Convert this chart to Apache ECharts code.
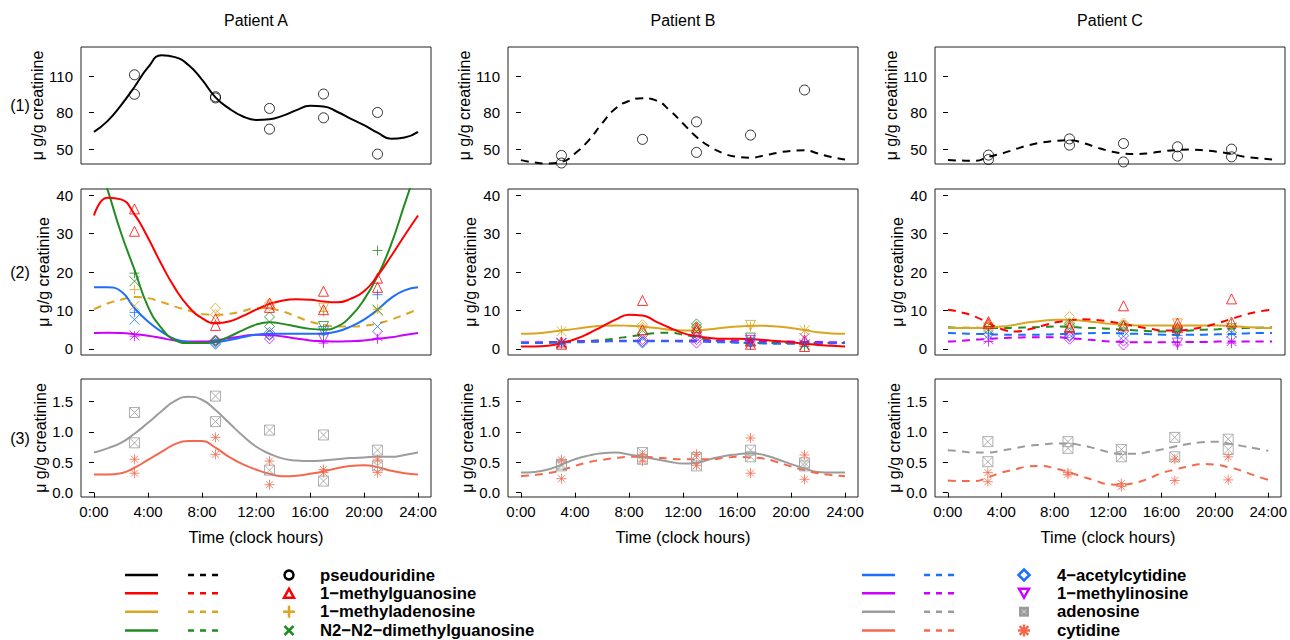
<!DOCTYPE html>
<html>
<head>
<meta charset="utf-8">
<script src="https://cdn.jsdelivr.net/npm/echarts@6/dist/echarts.min.js"></script>
<style>
  html, body { margin: 0; padding: 0; background: #fff; }
  #chart { width: 1290px; height: 640px; }
</style>
</head>
<body>
<div id="chart"></div>
<script>
// axes / labels
const curveHours = [0, 1, 2, 3, 4, 5, 6, 7, 8, 9, 10, 11, 12, 13, 14, 15, 16, 17, 18, 19, 20, 21, 22, 23, 24]
const sampleHours = [3, 3, 9, 9, 13, 13, 17, 17, 21, 21]
const hourTicks = [0, 4, 8, 12, 16, 20, 24]
const yTicksRow1 = [50, 80, 110]
const yTicksRow2 = [0, 10, 20, 30, 40]
const yTicksRow3 = [0, 0.5, 1.0, 1.5]
const patients = ["Patient A", "Patient B", "Patient C"]
const rowLabels = ["(1)", "(2)", "(3)"]
const metaboliteNames = ["pseudouridine", "1\u2212methylguanosine", "1\u2212methyladenosine", "N2\u2212N2\u2212dimethylguanosine",
  "4\u2212acetylcytidine", "1\u2212methylinosine", "adenosine", "cytidine"]

// row (1): pseudouridine, fitted curves read hourly 0:00..24:00
const pseuFitA = [64.2, 73, 86, 101, 117, 127, 125.5, 119, 107, 92.5, 83.4, 77, 74, 74.5, 77.5, 82, 85.5, 85, 80.7, 75, 69.7, 63.5, 58.5, 59.5, 64.2]
const pseuFitB = [41, 39, 38.2, 39.5, 46.4, 57, 71, 83.4, 89.5, 91.7, 90, 82, 71, 60, 52, 46.5, 43.7, 43, 44.8, 47, 48.6, 49, 46.4, 43.5, 41.5]
const pseuFitC = [41, 40.6, 40.4, 43.7, 46.4, 50, 53.3, 55.5, 56.8, 57.3, 55.1, 51.5, 48.3, 46.4, 45.9, 46.8, 48.3, 49.3, 49.6, 49, 47.8, 46, 43.7, 42.5, 41.5]
const pseuPtsA = [111, 95, 92, 93, 83.4, 66.4, 95.2, 75.7, 80.1, 45.9]
const pseuPtsB = [44.8, 38.6, 58, null, 72.4, 47.3, 61.5, null, 98.5, null]
const pseuPtsC = [45.1, 41.5, 58.4, 53.3, 54.6, 39.5, 51.9, 44.3, 50, 43.7]

// row (2): modified nucleosides, patient A
const m1GFitA = [34.7, 39.3, 38.9, 35, 28.9, 22, 15.8, 11, 8, 6.7, 7.1, 8.5, 10.2, 11.7, 12.6, 12.9, 12.8, 12.3, 12.1, 13, 15, 19, 24.1, 29.5, 34.7]
const m1AFitA = [10.3, 11.8, 12.8, 13.5, 13.2, 12.2, 11, 10, 9.1, 8.9, 9.1, 9.8, 10.6, 10.4, 9.7, 8.4, 7.1, 6.3, 5.8, 5.8, 6, 6.6, 7.6, 8.9, 10.3]
const m22GFitA = [52, 41.5, 30.2, 20.6, 11, 5.4, 2.3, 1.5, 1.5, 1.9, 3.2, 4.8, 6.3, 6.9, 6.5, 5.8, 5.2, 5, 5.8, 8.4, 12.8, 18.9, 27.1, 37.6, 48]
const ac4CFitA = [16, 16, 15, 10.6, 7.1, 4.5, 2.5, 1.8, 1.5, 1.7, 2.3, 3.0, 3.7, 3.9, 3.9, 3.9, 3.9, 4.0, 4.5, 5.8, 7.6, 10.2, 13.2, 15.2, 16]
const m1IFitA = [4.1, 4.2, 4.1, 3.8, 3.4, 2.8, 2.2, 1.9, 1.9, 2.2, 2.8, 3.3, 3.7, 3.6, 3.2, 2.7, 2.2, 2.0, 1.9, 2.0, 2.2, 2.6, 3.0, 3.6, 4.1]
const m1GPtsA = [36.4, 30.6, 7.8, 6.1, 11.9, 10.8, 15.0, 10.2, 18.4, 16.0]
const m1APtsA = [15.4, 11.2, 10.6, 8.9, 11.9, 11.2, 10.6, 9.7, 10.3, 9.9]
const m22GPtsA = [19.7, 17.6, 2.2, 1.9, 8.3, 5.8, 5.8, 5.1, 25.6, 10.2]
const ac4CPtsA = [9.5, 7.6, 1.5, 1.2, 4.3, 3.5, 4.5, 3.7, 14.1, 5.8]
const m1IPtsA = [3.3, 3.5, 2.3, 2.0, 3.7, 2.6, 2.6, 1.5, 2.6, 3.3]

// row (2), patient B
const m1GFitB = [0.6, 0.6, 0.8, 1.5, 2.5, 4.0, 5.8, 7.6, 8.9, 8.7, 7.1, 5.5, 4.1, 3.3, 2.8, 2.6, 2.6, 2.5, 2.3, 2.0, 1.7, 1.3, 1.0, 0.8, 0.6]
const m1AFitB = [3.9, 4.0, 4.3, 4.8, 5.2, 5.7, 6.0, 6.1, 6.0, 5.8, 5.4, 5.0, 4.8, 4.8, 5.1, 5.5, 5.8, 6.0, 6.0, 5.8, 5.4, 4.9, 4.3, 4.0, 3.9]
const m22GFitB = [1.5, 1.5, 1.6, 1.7, 2.0, 2.1, 2.3, 2.7, 3.2, 3.7, 4.1, 4.2, 3.7, 3.0, 2.3, 2.0, 1.7, 1.5, 1.5, 1.5, 1.5, 1.5, 1.5, 1.5, 1.5]
const ac4CFitB = [1.5, 1.5, 1.6, 1.7, 1.7, 1.8, 1.9, 2.0, 2.0, 2.0, 2.0, 2.0, 1.9, 1.9, 1.8, 1.7, 1.6, 1.5, 1.4, 1.3, 1.3, 1.3, 1.3, 1.4, 1.5]
const m1IFitB = [1.7, 1.7, 1.8, 1.8, 1.9, 2.0, 2.0, 2.1, 2.1, 2.1, 2.1, 2.1, 2.1, 2.2, 2.2, 2.2, 2.2, 2.1, 2.0, 2.0, 1.9, 1.8, 1.8, 1.7, 1.7]
const m1GPtsB = [1.2, 1.8, 12.6, 5.0, 5.5, 4.8, 1.2, 2.0, 2.3, 0.6]
const m1APtsB = [4.8, 4.6, 6.3, 5.6, 5.5, 5.0, 6.1, 5.8, 5.0, 4.8]
const m22GPtsB = [1.7, 1.3, 4.1, 3.5, 6.5, 5.8, 2.8, 1.0, 0.6, 1.0]
const ac4CPtsB = [1.3, 1.5, 1.5, 1.8, 3.2, 4.5, 1.5, 1.0, 1.5, 1.2]
const m1IPtsB = [1.8, 1.6, 1.9, 2.4, 1.5, 2.4, 2.2, 1.8, 1.9, 2.8]

// row (2), patient C
const m1GFitC = [10.2, 9.5, 8.4, 6.7, 5.1, 4.5, 5.1, 6.0, 6.9, 7.4, 7.7, 7.5, 7.1, 6.5, 5.8, 5.2, 4.8, 4.8, 5.1, 5.8, 6.7, 7.8, 8.9, 9.7, 10.2]
const m1AFitC = [5.4, 5.4, 5.4, 5.6, 5.8, 6.3, 6.9, 7.3, 7.6, 7.6, 7.3, 6.9, 6.5, 6.3, 6.1, 6.1, 6.1, 6.1, 6.1, 6.1, 6.1, 5.9, 5.7, 5.5, 5.4]
const m22GFitC = [5.6, 5.5, 5.5, 5.4, 5.4, 5.5, 5.6, 5.7, 5.8, 5.7, 5.5, 5.4, 5.2, 5.0, 4.8, 4.6, 4.5, 4.6, 4.8, 5.0, 5.1, 5.3, 5.4, 5.5, 5.6]
const ac4CFitC = [4.1, 4.0, 3.9, 3.8, 3.7, 3.7, 3.7, 3.7, 3.8, 3.9, 4.0, 4.1, 4.1, 4.0, 3.9, 3.8, 3.7, 3.7, 3.7, 3.7, 3.8, 3.9, 4.0, 4.1, 4.1]
const m1IFitC = [1.9, 2.1, 2.4, 2.6, 2.8, 2.9, 3.0, 3.0, 3.0, 2.8, 2.5, 2.2, 1.9, 1.8, 1.7, 1.7, 1.7, 1.7, 1.8, 1.8, 1.9, 1.9, 1.9, 1.9, 1.9]
const m1GPtsC = [7.1, 6.5, 5.8, 5.5, 11.2, 6.0, 6.7, 5.5, 13.0, 7.0]
const m1APtsC = [6.7, 5.6, 8.4, 6.8, 6.7, 6.2, 6.5, 5.8, 6.1, 5.5]
const m22GPtsC = [5.4, 5.0, 6.5, 6.0, 5.8, 6.2, 4.5, 5.0, 6.5, 5.5]
const ac4CPtsC = [4.1, 3.6, 4.1, 3.5, 4.5, 3.4, 4.1, 3.5, 3.7, 4.2]
const m1IPtsC = [1.9, 2.5, 3.2, 2.5, 1.0, 2.0, 1.5, 1.0, 1.5, 2.0]

// row (3): adenosine and cytidine
const adoFitA = [0.66, 0.73, 0.82, 0.97, 1.15, 1.34, 1.51, 1.58, 1.53, 1.36, 1.15, 0.94, 0.76, 0.64, 0.56, 0.53, 0.52, 0.53, 0.55, 0.57, 0.58, 0.59, 0.59, 0.62, 0.66]
const cytFitA = [0.30, 0.30, 0.32, 0.41, 0.54, 0.67, 0.80, 0.85, 0.85, 0.74, 0.59, 0.47, 0.38, 0.31, 0.27, 0.28, 0.31, 0.35, 0.40, 0.44, 0.45, 0.42, 0.36, 0.32, 0.30]
const adoFitB = [0.33, 0.34, 0.38, 0.46, 0.55, 0.61, 0.65, 0.66, 0.63, 0.59, 0.55, 0.51, 0.48, 0.49, 0.55, 0.60, 0.63, 0.65, 0.62, 0.55, 0.47, 0.40, 0.34, 0.33, 0.33]
const cytFitB = [0.27, 0.29, 0.32, 0.37, 0.44, 0.50, 0.54, 0.57, 0.59, 0.59, 0.58, 0.56, 0.55, 0.55, 0.55, 0.57, 0.59, 0.58, 0.56, 0.50, 0.43, 0.37, 0.32, 0.29, 0.27]
const adoFitC = [0.70, 0.68, 0.66, 0.66, 0.69, 0.73, 0.77, 0.79, 0.81, 0.81, 0.78, 0.73, 0.67, 0.64, 0.64, 0.67, 0.71, 0.76, 0.80, 0.83, 0.84, 0.81, 0.77, 0.73, 0.69]
const cytFitC = [0.20, 0.19, 0.19, 0.25, 0.33, 0.38, 0.43, 0.44, 0.40, 0.34, 0.27, 0.20, 0.14, 0.13, 0.16, 0.23, 0.32, 0.38, 0.43, 0.47, 0.46, 0.42, 0.36, 0.28, 0.21]
const adoPtsA = [1.32, 0.82, 1.59, 1.17, 1.03, 0.37, 0.95, 0.19, 0.70, 0.44]
const cytPtsA = [0.55, 0.32, 0.91, 0.63, 0.52, 0.13, 0.38, 0.33, 0.54, 0.33]
const adoPtsB = [0.47, 0.44, 0.66, 0.55, 0.58, 0.44, 0.70, 0.59, 0.49, 0.44]
const cytPtsB = [0.54, 0.23, 0.62, 0.52, 0.63, 0.45, 0.90, 0.32, 0.62, 0.22]
const adoPtsC = [0.84, 0.51, 0.84, 0.73, 0.71, 0.59, 0.91, 0.59, 0.88, 0.71]
const cytPtsC = [0.33, 0.18, 0.33, 0.30, 0.15, 0.10, 0.55, 0.20, 0.59, 0.21]

const FONT = "'Liberation Sans', Arial, sans-serif"
const COLORS = {
  pseu: "#000000", m1G: "#FF0000", m1A: "#DAA520", m22G: "#228B22",
  ac4C: "#1C6EFF", m1I: "#CC00FF", ado: "#9C9C9C", cyt: "#F4694E"
}
const SYM = {
  circle: "circle",
  triangle: "triangle",
  diamond: "diamond",
  plus: "path://M5,0L5,10M0,5L10,5",
  cross: "path://M0,0L10,10M0,10L10,0",
  downTri: "path://M0,0L10,0L5,8.7Z",
  boxX: "path://M0,0L10,0L10,10L0,10ZM0,0L10,10M0,10L10,0",
  star: "path://M5,0L5,10M0,5L10,5M1.5,1.5L8.5,8.5M1.5,8.5L8.5,1.5"
}
// in row 2 the plotting symbol cycles by sample, except for 1-methylguanosine
const row2Symbols = ["plus", "cross", "diamond", "diamond", "diamond", "diamond", "downTri", "plus", "plus", "cross"]

// panels[row][col]
const panels = [
  [
    [{ key: "pseu", fit: pseuFitA, pts: pseuPtsA, dashed: false }],
    [{ key: "pseu", fit: pseuFitB, pts: pseuPtsB, dashed: true }],
    [{ key: "pseu", fit: pseuFitC, pts: pseuPtsC, dashed: true }]
  ],
  [
    [
      { key: "m1A", fit: m1AFitA, pts: m1APtsA, dashed: true },
      { key: "m1I", fit: m1IFitA, pts: m1IPtsA, dashed: false },
      { key: "ac4C", fit: ac4CFitA, pts: ac4CPtsA, dashed: false },
      { key: "m22G", fit: m22GFitA, pts: m22GPtsA, dashed: false },
      { key: "m1G", fit: m1GFitA, pts: m1GPtsA, dashed: false }
    ],
    [
      { key: "m22G", fit: m22GFitB, pts: m22GPtsB, dashed: true },
      { key: "m1I", fit: m1IFitB, pts: m1IPtsB, dashed: true },
      { key: "ac4C", fit: ac4CFitB, pts: ac4CPtsB, dashed: true },
      { key: "m1A", fit: m1AFitB, pts: m1APtsB, dashed: false },
      { key: "m1G", fit: m1GFitB, pts: m1GPtsB, dashed: false }
    ],
    [
      { key: "m1I", fit: m1IFitC, pts: m1IPtsC, dashed: true },
      { key: "ac4C", fit: ac4CFitC, pts: ac4CPtsC, dashed: true },
      { key: "m22G", fit: m22GFitC, pts: m22GPtsC, dashed: true },
      { key: "m1A", fit: m1AFitC, pts: m1APtsC, dashed: false },
      { key: "m1G", fit: m1GFitC, pts: m1GPtsC, dashed: true }
    ]
  ],
  [
    [
      { key: "ado", fit: adoFitA, pts: adoPtsA, dashed: false },
      { key: "cyt", fit: cytFitA, pts: cytPtsA, dashed: false }
    ],
    [
      { key: "ado", fit: adoFitB, pts: adoPtsB, dashed: false },
      { key: "cyt", fit: cytFitB, pts: cytPtsB, dashed: true }
    ],
    [
      { key: "ado", fit: adoFitC, pts: adoPtsC, dashed: true },
      { key: "cyt", fit: cytFitC, pts: cytPtsC, dashed: true }
    ]
  ]
]

// layout
const colLeft = [81, 508, 935]
const gridW = 350
const rowTop = [47, 189, 379]
const rowH = [117, 166, 118]
const yRange = [[37.8, 133.8], [-1.6, 41.6], [-0.072, 1.872]]
const yTicks = [yTicksRow1, yTicksRow2, yTicksRow3]

function pointSymbol(key, row, i) {
  if (row === 0) return SYM.circle
  if (row === 2) return key === "ado" ? SYM.boxX : SYM.star
  if (key === "m1G") return SYM.triangle
  return SYM[row2Symbols[i]]
}

const grids = [], xAxes = [], yAxes = [], series = []
panels.forEach((rowPanels, r) => {
  rowPanels.forEach((items, c) => {
    const idx = r * 3 + c
    grids.push({
      left: colLeft[c], top: rowTop[r], width: gridW, height: rowH[r],
      show: true, borderColor: "#222", borderWidth: 1, backgroundColor: "transparent"
    })
    xAxes.push({
      gridIndex: idx, type: "value", min: -0.96, max: 24.96,
      splitLine: { show: false },
      axisLine: { show: false },
      axisTick: { show: r === 2, length: 5, customValues: hourTicks, lineStyle: { color: "#000" } },
      axisLabel: {
        show: r === 2, customValues: hourTicks, formatter: v => v + ":00",
        margin: 7, fontSize: 15, color: "#000", fontFamily: FONT
      },
      name: r === 2 ? "Time (clock hours)" : "",
      nameLocation: "middle", nameGap: 31,
      nameTextStyle: { fontSize: 16.5, color: "#000", fontFamily: FONT }
    })
    yAxes.push({
      gridIndex: idx, type: "value", min: yRange[r][0], max: yRange[r][1],
      splitLine: { show: false },
      axisLine: { show: false },
      axisTick: { show: true, length: 5, customValues: yTicks[r], lineStyle: { color: "#000" } },
      axisLabel: {
        customValues: yTicks[r], formatter: v => (r === 2 ? v.toFixed(1) : String(v)),
        margin: 8, fontSize: 15, color: "#000", fontFamily: FONT
      },
      name: "\u03bc g/g creatinine", nameLocation: "middle", nameRotate: 90, nameGap: 30,
      nameTextStyle: { fontSize: 16, color: "#000", fontFamily: FONT }
    })
    items.forEach(it => {
      const color = COLORS[it.key]
      series.push({
        type: "line", xAxisIndex: idx, yAxisIndex: idx,
        data: curveHours.map((h, i) => [h, it.fit[i]]),
        smooth: true, showSymbol: false, silent: true, z: 2,
        lineStyle: { color: color, width: 2, type: it.dashed ? [8, 6] : "solid" }
      })
      const pts = []
      it.pts.forEach((v, i) => {
        if (v == null) return
        pts.push({ value: [sampleHours[i], v], symbol: pointSymbol(it.key, r, i) })
      })
      series.push({
        type: "scatter", xAxisIndex: idx, yAxisIndex: idx,
        data: pts, symbolSize: 10, silent: true, z: 3,
        itemStyle: { color: "rgba(0,0,0,0)", borderColor: color, borderWidth: 1 }
      })
    })
  })
})

// titles, row labels and the hand-built legend
const graphics = []
patients.forEach((t, c) => {
  graphics.push({
    type: "text", x: colLeft[c] + gridW / 2, y: 20,
    style: { text: t, font: "16px " + FONT, fill: "#000", textAlign: "center", textVerticalAlign: "middle", align: "center", verticalAlign: "middle" }
  })
})
rowLabels.forEach((t, r) => {
  graphics.push({
    type: "text", x: 20, y: rowTop[r] + rowH[r] / 2,
    style: { text: t, font: "16px " + FONT, fill: "#000", textAlign: "center", textVerticalAlign: "middle", align: "center", verticalAlign: "middle" }
  })
})

const legendKeys = ["pseu", "m1G", "m1A", "m22G", "ac4C", "m1I", "ado", "cyt"]
const legendMarks = ["circle", "triangle", "plus", "cross", "diamond", "downTri", "boxX", "star"]
const legendRowY = [575, 593.3, 611.7, 630.5]
const legendCols = [
  { solid: [125, 158], dash: [188, 220], mark: 289, text: 320 },
  { solid: [862, 895], dash: [924, 957], mark: 1024, text: 1057 }
]

function legendMarker(kind, cx, cy, color) {
  const st = { stroke: color, lineWidth: 2.5, fill: "none" }
  const s = 5
  switch (kind) {
    case "circle": return [{ type: "circle", shape: { cx, cy, r: 4.5 }, style: st }]
    case "triangle": return [{ type: "polygon", shape: { points: [[cx - s, cy + 4.5], [cx + s, cy + 4.5], [cx, cy - 4.5]] }, style: st }]
    case "downTri": return [{ type: "polygon", shape: { points: [[cx - s, cy - 4.5], [cx + s, cy - 4.5], [cx, cy + 4.5]] }, style: st }]
    case "diamond": return [{ type: "polygon", shape: { points: [[cx, cy - 5.5], [cx + 5.5, cy], [cx, cy + 5.5], [cx - 5.5, cy]] }, style: st }]
    case "plus": return [
      { type: "line", shape: { x1: cx - 6, y1: cy, x2: cx + 6, y2: cy }, style: st },
      { type: "line", shape: { x1: cx, y1: cy - 6, x2: cx, y2: cy + 6 }, style: st }]
    case "cross": return [
      { type: "line", shape: { x1: cx - 4.5, y1: cy - 4.5, x2: cx + 4.5, y2: cy + 4.5 }, style: st },
      { type: "line", shape: { x1: cx - 4.5, y1: cy + 4.5, x2: cx + 4.5, y2: cy - 4.5 }, style: st }]
    case "boxX": return [
      { type: "rect", shape: { x: cx - 5, y: cy - 5, width: 10, height: 10 }, style: { fill: color } },
      { type: "line", shape: { x1: cx - 2, y1: cy - 2, x2: cx + 2, y2: cy + 2 }, style: { stroke: "#d8d8d8", lineWidth: 1 } },
      { type: "line", shape: { x1: cx - 2, y1: cy + 2, x2: cx + 2, y2: cy - 2 }, style: { stroke: "#d8d8d8", lineWidth: 1 } }]
    case "star": return [
      { type: "line", shape: { x1: cx - 6, y1: cy, x2: cx + 6, y2: cy }, style: st },
      { type: "line", shape: { x1: cx, y1: cy - 6, x2: cx, y2: cy + 6 }, style: st },
      { type: "line", shape: { x1: cx - 4.3, y1: cy - 4.3, x2: cx + 4.3, y2: cy + 4.3 }, style: st },
      { type: "line", shape: { x1: cx - 4.3, y1: cy + 4.3, x2: cx + 4.3, y2: cy - 4.3 }, style: st }]
  }
  return []
}

legendKeys.forEach((key, i) => {
  const col = legendCols[Math.floor(i / 4)]
  const y = legendRowY[i % 4]
  const color = COLORS[key]
  graphics.push({ type: "line", shape: { x1: col.solid[0], y1: y, x2: col.solid[1], y2: y }, style: { stroke: color, lineWidth: 2.5 } })
  graphics.push({ type: "line", shape: { x1: col.dash[0], y1: y, x2: col.dash[1], y2: y }, style: { stroke: color, lineWidth: 2.5, lineDash: [6, 6] } })
  legendMarker(legendMarks[i], col.mark, y, color).forEach(g => graphics.push(g))
  graphics.push({
    type: "text", x: col.text, y: y,
    style: { text: metaboliteNames[i], font: "bold 16.7px " + FONT, fill: "#000", textAlign: "left", textVerticalAlign: "middle", align: "left", verticalAlign: "middle" }
  })
})

const chart = echarts.init(document.getElementById("chart"), null, { renderer: "svg" })
chart.setOption({
  animation: false,
  backgroundColor: "#fff",
  grid: grids,
  xAxis: xAxes,
  yAxis: yAxes,
  series: series,
  graphic: graphics
})
</script>
</body>
</html>
